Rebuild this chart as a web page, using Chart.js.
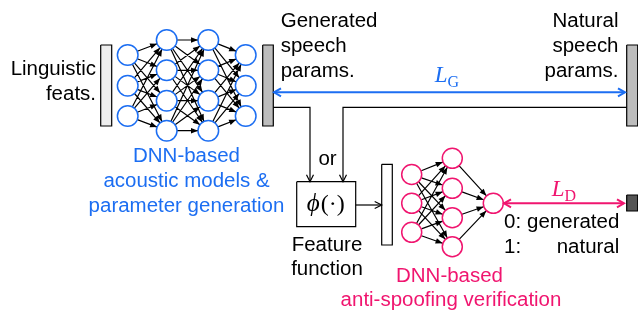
<!DOCTYPE html>
<html>
<head>
<meta charset="utf-8">
<script src="https://cdn.jsdelivr.net/npm/chart.js@4.4.1/dist/chart.umd.min.js"></script>
<style>
  html, body { margin: 0; padding: 0; background: #fff; }
  #diagram { display: block; }
</style>
</head>
<body>
<canvas id="diagram" width="638" height="311"></canvas>
<script>
const BLUE = '#1c6ef2';
const PINK = '#f0156f';
const SANS = '"Liberation Sans", Arial, sans-serif';
const SERIF = '"Liberation Serif", "DejaVu Serif", serif';

// acoustic model DNN (blue): x of each layer, y of its units
const genLayerX = [127.7, 166.7, 208.3, 245.7];
const genLayerY = [[55, 85.7, 116], [40, 70.3, 100.7, 130.7], [40, 70.3, 100.7, 130.7], [55, 85.7, 116]];
// anti-spoofing DNN (pink)
const disLayerX = [411.7, 452.3, 493.3];
const disLayerY = [[174.5, 203.3, 232.3], [158.3, 188.3, 217.7, 246.7], [203.3]];
const unitR = 10.3;

// boxes [x0, x1, y0, y1]
const linguisticBar = [100.7, 111.7, 45, 126];
const generatedBar = [262.7, 273.3, 45, 126];
const naturalBar = [626.7, 637.7, 45, 126];
const featureBar = [381.7, 392.3, 164.3, 245];
const phiBox = [296.7, 355.7, 181.7, 226.7];
const labelBox = [626.7, 637.7, 195, 211];

// connectors
const genToPhi = [[273.3, 107.3], [310, 107.3], [310, 181.7]];
const natToPhi = [[626.7, 107.3], [343, 107.3], [343, 181.7]];
const phiToFeat = [[355.7, 205], [381.7, 205]];
const lossG = [[274, 92.3], [625, 92.3]];
const lossD = [[504, 203.3], [624, 203.3]];

const textLabels = [
  ['Linguistic', 96, 75, 'right', '#000'],
  ['feats.', 96, 99.5, 'right', '#000'],
  ['Generated', 280.7, 27, 'left', '#000'],
  ['speech', 280.7, 52, 'left', '#000'],
  ['params.', 280.7, 77, 'left', '#000'],
  ['Natural', 618.5, 27, 'right', '#000'],
  ['speech', 618.5, 52, 'right', '#000'],
  ['params.', 618.5, 77, 'right', '#000'],
  ['DNN-based', 186.5, 161.7, 'center', BLUE],
  ['acoustic models &', 186.5, 186.7, 'center', BLUE],
  ['parameter generation', 186.5, 211.7, 'center', BLUE],
  ['or', 327.5, 165, 'center', '#000'],
  ['Feature', 327, 250.7, 'center', '#000'],
  ['function', 327, 275, 'center', '#000'],
  ['0:', 504, 228.3, 'left', '#000'],
  ['generated', 619.3, 228.3, 'right', '#000'],
  ['1:', 504, 252.7, 'left', '#000'],
  ['natural', 619.3, 252.7, 'right', '#000'],
  ['DNN-based', 449.5, 281.7, 'center', PINK],
  ['anti-spoofing verification', 451, 306, 'center', PINK]
];

const pt = (p) => ({ x: p[0], y: p[1] });
const GAP = { x: null, y: null };

function unitPoints(xs, ys) {
  const out = [];
  xs.forEach((x, l) => ys[l].forEach(y => out.push({ x: x, y: y })));
  return out;
}

// edges between consecutive layers, trimmed to the circle outlines
function edgePoints(xs, ys) {
  const out = [];
  for (let l = 0; l < xs.length - 1; l++) {
    ys[l].forEach(y1 => {
      ys[l + 1].forEach(y2 => {
        const dx = xs[l + 1] - xs[l], dy = y2 - y1;
        const len = Math.hypot(dx, dy);
        const ux = dx / len, uy = dy / len;
        out.push({ x: xs[l] + ux * unitR, y: y1 + uy * unitR });
        out.push({ x: xs[l + 1] - ux * unitR, y: y2 - uy * unitR });
        out.push(GAP);
      });
    });
  }
  return out;
}

function boxPoints(b) {
  return [{ x: b[0], y: b[2] }, { x: b[1], y: b[2] }, { x: b[1], y: b[3] }, { x: b[0], y: b[3] }, { x: b[0], y: b[2] }];
}

function boxSet(b, fill) {
  return { data: boxPoints(b), borderColor: '#000', borderWidth: 1.2, backgroundColor: fill, fill: 'shape', pointRadius: 0, tension: 0 };
}

function lineSet(points, color, width, arrow) {
  return { data: points.map(pt), borderColor: color, borderWidth: width, pointRadius: 0, fill: false, tension: 0, arrow: arrow };
}

const datasets = [
  { data: unitPoints(genLayerX, genLayerY), showLine: false, pointRadius: unitR, pointHoverRadius: unitR,
    pointBackgroundColor: '#fff', pointBorderColor: BLUE, pointBorderWidth: 1.5 },
  { data: unitPoints(disLayerX, disLayerY), showLine: false, pointRadius: unitR - 0.3, pointHoverRadius: unitR,
    pointBackgroundColor: '#fff', pointBorderColor: PINK, pointBorderWidth: 1.5 },
  { data: edgePoints(genLayerX, genLayerY), borderColor: '#000', borderWidth: 1.2, pointRadius: 0, fill: false,
    arrow: { len: 7, half: 2.8, filled: true } },
  { data: edgePoints(disLayerX, disLayerY), borderColor: '#000', borderWidth: 1.2, pointRadius: 0, fill: false,
    arrow: { len: 7, half: 2.8, filled: true } },
  lineSet(genToPhi, '#000', 1.2, { len: 7, half: 3.5 }),
  lineSet(natToPhi, '#000', 1.2, { len: 7, half: 3.5 }),
  lineSet(phiToFeat, '#000', 1.2, { len: 7, half: 3.5 }),
  lineSet(lossG, BLUE, 2, { len: 7, half: 4, both: true }),
  lineSet(lossD, PINK, 2, { len: 7, half: 4, both: true }),
  boxSet(linguisticBar, '#eeeeee'),
  boxSet(generatedBar, '#bdbdbd'),
  boxSet(naturalBar, '#bdbdbd'),
  boxSet(featureBar, '#ffffff'),
  boxSet(phiBox, '#ffffff'),
  boxSet(labelBox, '#555555')
];
datasets.forEach(d => { d.clip = false; });

function drawHead(ctx, from, to, a, color) {
  const dx = to.x - from.x, dy = to.y - from.y;
  const len = Math.hypot(dx, dy);
  const ux = dx / len, uy = dy / len;
  const bx = to.x - ux * a.len, by = to.y - uy * a.len;
  ctx.beginPath();
  ctx.moveTo(bx - uy * a.half, by + ux * a.half);
  ctx.lineTo(to.x, to.y);
  ctx.lineTo(bx + uy * a.half, by - ux * a.half);
  if (a.filled) {
    ctx.closePath();
    ctx.fillStyle = color;
    ctx.fill();
  } else {
    ctx.stroke();
  }
}

const arrowPlugin = {
  id: 'arrows',
  afterDatasetsDraw(chart) {
    const ctx = chart.ctx;
    ctx.save();
    chart.data.datasets.forEach((ds, i) => {
      if (!ds.arrow) return;
      const pts = chart.getDatasetMeta(i).data;
      ctx.strokeStyle = ds.borderColor;
      ctx.lineWidth = ds.borderWidth;
      ctx.lineJoin = 'miter';
      let seg = [];
      const flush = () => {
        if (seg.length >= 2) {
          drawHead(ctx, seg[seg.length - 2], seg[seg.length - 1], ds.arrow, ds.borderColor);
          if (ds.arrow.both) drawHead(ctx, seg[1], seg[0], ds.arrow, ds.borderColor);
        }
        seg = [];
      };
      pts.forEach(p => { if (p.skip) flush(); else seg.push(p); });
      flush();
    });
    ctx.restore();
  }
};

// sans text in the reference is a little wider than Liberation Sans
const TEXT_STRETCH = 1.05;

function mathLabel(ctx, xs, ys, x, y, sub, color) {
  const px = xs.getPixelForValue(x), py = ys.getPixelForValue(y);
  ctx.fillStyle = color;
  ctx.textAlign = 'left';
  ctx.font = 'italic 23px ' + SERIF;
  const w = ctx.measureText('L').width;
  ctx.font = '16px ' + SERIF;
  const ws = ctx.measureText(sub).width;
  const x0 = px - (w + ws) / 2;
  ctx.font = 'italic 23px ' + SERIF;
  ctx.fillText('L', x0, py);
  ctx.font = '16px ' + SERIF;
  ctx.fillText(sub, x0 + w, py + 4.5);
}

const textPlugin = {
  id: 'texts',
  afterDraw(chart) {
    const ctx = chart.ctx;
    const xs = chart.scales.x, ys = chart.scales.y;
    ctx.save();
    ctx.textBaseline = 'alphabetic';
    ctx.font = '19.5px ' + SANS;
    textLabels.forEach(t => {
      ctx.save();
      ctx.fillStyle = t[4];
      ctx.textAlign = t[3];
      ctx.translate(xs.getPixelForValue(t[1]), ys.getPixelForValue(t[2]));
      ctx.scale(TEXT_STRETCH, 1);
      ctx.fillText(t[0], 0, 0);
      ctx.restore();
    });
    mathLabel(ctx, xs, ys, 447, 82, 'G', BLUE);
    mathLabel(ctx, xs, ys, 564, 196, 'D', PINK);

    // phi(.) inside the feature box
    const cx = xs.getPixelForValue((phiBox[0] + phiBox[1]) / 2);
    const by = ys.getPixelForValue(211);
    ctx.fillStyle = '#000';
    ctx.textAlign = 'left';
    ctx.font = 'italic 25px ' + SERIF;
    const wPhi = ctx.measureText('\u03D5').width;
    ctx.font = '24px ' + SERIF;
    const wRest = ctx.measureText('(\u00B7)').width;
    const x0 = cx - (wPhi + wRest) / 2 - 1;
    ctx.font = 'italic 25px ' + SERIF;
    ctx.fillText('\u03D5', x0, by);
    ctx.font = '24px ' + SERIF;
    ctx.fillText('(\u00B7)', x0 + wPhi + 1, by);
    ctx.restore();
  }
};

new Chart(document.getElementById('diagram'), {
  type: 'line',
  data: { datasets: datasets },
  options: {
    responsive: false,
    animation: false,
    events: [],
    layout: { padding: 0, autoPadding: false },
    scales: {
      x: { type: 'linear', min: 0, max: 638, display: false },
      y: { type: 'linear', min: 0, max: 311, reverse: true, display: false }
    },
    plugins: { legend: { display: false }, tooltip: { enabled: false } }
  },
  plugins: [arrowPlugin, textPlugin]
});
</script>
</body>
</html>
